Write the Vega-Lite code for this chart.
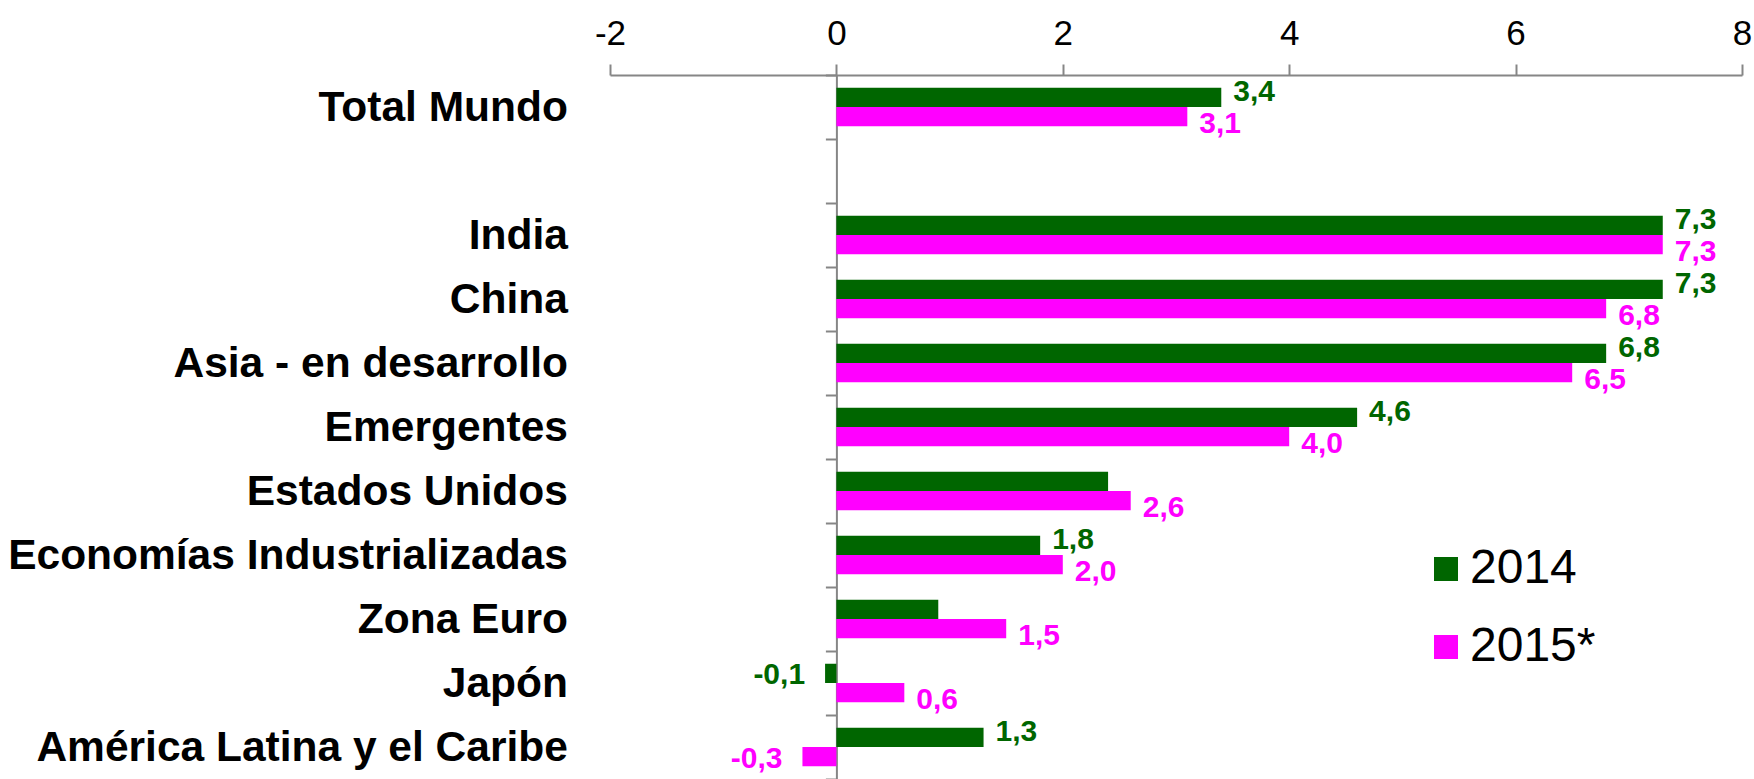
{
  "$schema": "https://vega.github.io/schema/vega-lite/v6.json",
  "width": 1132,
  "height": 704,
  "padding": {"left": 610, "top": 75, "right": 12, "bottom": 0},
  "autosize": {"type": "none"},
  "background": "white",
  "config": {
    "view": {"stroke": null},
    "font": "Liberation Sans"
  },
  "data": {
    "values": [
      {"region": "Total Mundo", "year": "2014", "value": 3.4, "label": "3,4"},
      {"region": "Total Mundo", "year": "2015*", "value": 3.1, "label": "3,1"},
      {"region": "India", "year": "2014", "value": 7.3, "label": "7,3"},
      {"region": "India", "year": "2015*", "value": 7.3, "label": "7,3"},
      {"region": "China", "year": "2014", "value": 7.3, "label": "7,3"},
      {"region": "China", "year": "2015*", "value": 6.8, "label": "6,8"},
      {"region": "Asia - en desarrollo", "year": "2014", "value": 6.8, "label": "6,8"},
      {"region": "Asia - en desarrollo", "year": "2015*", "value": 6.5, "label": "6,5"},
      {"region": "Emergentes", "year": "2014", "value": 4.6, "label": "4,6"},
      {"region": "Emergentes", "year": "2015*", "value": 4.0, "label": "4,0"},
      {"region": "Estados Unidos", "year": "2014", "value": 2.4, "label": ""},
      {"region": "Estados Unidos", "year": "2015*", "value": 2.6, "label": "2,6"},
      {"region": "Economías Industrializadas", "year": "2014", "value": 1.8, "label": "1,8"},
      {"region": "Economías Industrializadas", "year": "2015*", "value": 2.0, "label": "2,0"},
      {"region": "Zona Euro", "year": "2014", "value": 0.9, "label": ""},
      {"region": "Zona Euro", "year": "2015*", "value": 1.5, "label": "1,5"},
      {"region": "Japón", "year": "2014", "value": -0.1, "label": "-0,1"},
      {"region": "Japón", "year": "2015*", "value": 0.6, "label": "0,6"},
      {"region": "América Latina y el Caribe", "year": "2014", "value": 1.3, "label": "1,3"},
      {"region": "América Latina y el Caribe", "year": "2015*", "value": -0.3, "label": "-0,3"}
    ]
  },
  "encoding": {
    "y": {
      "field": "region",
      "type": "nominal",
      "sort": null,
      "scale": {
        "domain": ["Total Mundo", " ", "India", "China", "Asia - en desarrollo", "Emergentes", "Estados Unidos", "Economías Industrializadas", "Zona Euro", "Japón", "América Latina y el Caribe"],
        "paddingInner": 0,
        "paddingOuter": 0
      },
      "axis": {
        "title": null,
        "offset": -226.4,
        "tickBand": "extent",
        "domainColor": "#868686",
        "domainWidth": 2,
        "tickColor": "#868686",
        "tickWidth": 2,
        "tickSize": 11,
        "labelFont": "Liberation Sans",
        "labelFontWeight": "bold",
        "labelFontSize": 42.5,
        "labelColor": "black",
        "labelPadding": 258,
        "labelLimit": 1000
      }
    },
    "yOffset": {
      "field": "year",
      "type": "nominal",
      "sort": ["2014", "2015*"],
      "scale": {"paddingInner": 0, "paddingOuter": 0.667}
    },
    "x": {
      "field": "value",
      "type": "quantitative",
      "scale": {"domain": [-2, 8], "nice": false, "zero": false},
      "axis": {
        "orient": "top",
        "title": null,
        "values": [-2, 0, 2, 4, 6, 8],
        "labelExpr": "datum.value < 0 ? '-' + (-datum.value) : '' + datum.value",
        "grid": false,
        "domainColor": "#868686",
        "domainWidth": 2,
        "tickColor": "#868686",
        "tickWidth": 2,
        "tickSize": 11,
        "labelFont": "Liberation Sans",
        "labelFontSize": 35,
        "labelColor": "black",
        "labelPadding": 13,
        "labelFlush": false
      }
    },
    "color": {
      "field": "year",
      "type": "nominal",
      "scale": {"domain": ["2014", "2015*"], "range": ["#006600", "#FF00FF"]},
      "legend": {
        "title": null,
        "orient": "none",
        "legendX": 812,
        "legendY": 470,
        "symbolType": "square",
        "symbolSize": 576,
        "symbolStrokeWidth": 0,
        "labelFont": "Liberation Sans",
        "labelFontSize": 48,
        "labelColor": "black",
        "labelOffset": 0,
        "rowPadding": 30,
        "padding": 0
      }
    }
  },
  "layer": [
    {"mark": {"type": "bar", "cornerRadius": 0}},
    {
      "transform": [{"filter": "datum.value >= 0 && datum.year == '2014'"}],
      "mark": {"type": "text", "align": "left", "baseline": "middle", "dx": 12, "dy": -5, "fontSize": 30, "fontWeight": "bold", "font": "Liberation Sans"},
      "encoding": {"text": {"field": "label"}, "color": {"field": "year", "type": "nominal", "legend": null}}
    },
    {
      "transform": [{"filter": "datum.value >= 0 && datum.year == '2015*'"}],
      "mark": {"type": "text", "align": "left", "baseline": "middle", "dx": 12, "dy": 7, "fontSize": 30, "fontWeight": "bold", "font": "Liberation Sans"},
      "encoding": {"text": {"field": "label"}, "color": {"field": "year", "type": "nominal", "legend": null}}
    },
    {
      "transform": [{"filter": "datum.value < 0"}],
      "mark": {"type": "text", "align": "right", "baseline": "middle", "dx": -20, "dy": 2, "fontSize": 30, "fontWeight": "bold", "font": "Liberation Sans"},
      "encoding": {"text": {"field": "label"}, "color": {"field": "year", "type": "nominal", "legend": null}}
    }
  ]
}
